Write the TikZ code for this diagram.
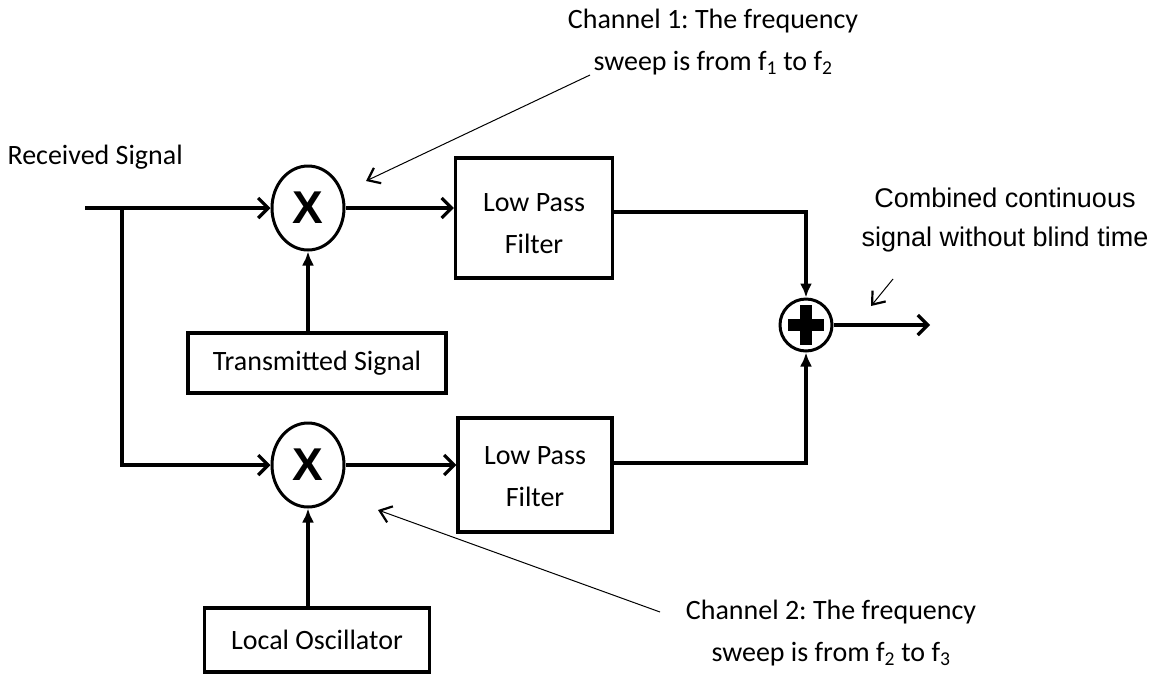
\documentclass[tikz,border=0pt]{standalone}
\usepackage{fontspec}
\setmainfont{Carlito}
\newfontfamily\arialfont{Liberation Sans}
\usetikzlibrary{arrows.meta,shapes.geometric,calc}
\frenchspacing
\begin{document}
\begin{tikzpicture}[x=1pt,y=-1pt,
  thick line/.style={line width=3.2pt},
  sig/.style={thick line,-{Straight Barb[length=10pt,width=20pt]}},
  vsig/.style={thick line,-{Latex[length=14pt,width=12pt]}},
  note/.style={line width=1pt,-{Straight Barb[length=11pt,width=17pt,line width=2.2pt]}},
  blk/.style={draw,line width=3.2pt,inner sep=0pt},
  mix/.style={draw,ellipse,line width=3pt,minimum width=72pt,minimum height=84pt,inner sep=0pt},
  lbl/.style={font=\fontsize{28}{34}\selectfont,align=center}]
\useasboundingbox (0,0) rectangle (1159,681);
% blocks
\node[mix] (m1) at (308,208) {};
\node[mix] (m2) at (308,465) {};
\node[draw,circle,line width=3pt,minimum size=52pt,inner sep=0pt] (sum) at (806,325) {};
\node[blk,minimum width=157pt,minimum height=120pt,label={[lbl,yshift=-6pt]center:{Low Pass\\[8pt]Filter}}] (lpf1) at (534,218) {};
\node[blk,minimum width=154pt,minimum height=114pt,label={[lbl,yshift=-2pt]center:{Low Pass\\[8pt]Filter}}] (lpf2) at (535,475) {};
\node[blk,minimum width=258pt,minimum height=60pt,lbl] (tx) at (317,363) {Transmitted Signal};
\node[blk,minimum width=225pt,minimum height=64pt,lbl] (lo) at (317,640) {Local Oscillator};
% X symbols
\node[font=\arialfont\bfseries\fontsize{46}{46}\selectfont] at (m1.center) {X};
\node[font=\arialfont\bfseries\fontsize{46}{46}\selectfont] at (m2.center) {X};
% plus symbol
\fill ($(sum.center)+(-6,-20)$) rectangle ($(sum.center)+(6,20)$);
\fill ($(sum.center)+(-18,-6)$) rectangle ($(sum.center)+(18,6)$);
% coordinates
\coordinate (in) at (85,208);
\coordinate (br) at (122,208);
\coordinate (out) at (930,325);
% signal lines
\draw[sig] (in) -- (m1.west);
\draw[thick line] (br) -- ($(br)+(0,257)$) coordinate (brd);
\draw[sig] ($(brd)+(-1.6,0)$) -- (m2.west);
\draw[vsig] (tx.north -| m1.south) -- (m1.south);
\draw[vsig] (lo.north -| m2.south) -- (m2.south);
\draw[sig] (m1.east) -- (lpf1.west |- m1.east);
\draw[sig] (m2.east) -- (lpf2.west |- m2.east);
\draw[vsig] (lpf1.east |- 0,212) -| (sum.north);
\draw[vsig] (lpf2.east |- 0,463) -| (sum.south);
\draw[sig] (sum.east) -- (out);
% labels
\node[lbl,anchor=west] (rs) at (4,157) {Received Signal};
\node[lbl] (c1) at (713,42) {Channel 1: The frequency\\[8pt]sweep is from f\textsubscript{1} to f\textsubscript{2}};
\node[lbl] (c2) at (831,633) {Channel 2: The frequency\\[8pt]sweep is from f\textsubscript{2} to f\textsubscript{3}};
\node[font=\arialfont\fontsize{27}{32}\selectfont,align=center] (cb) at (1005,220) {Combined continuous\\[7pt]signal without blind time};
% note arrows
\coordinate (a1) at (590,75);
\coordinate (a2) at (660,612);
\coordinate (a3) at (893,279);
\draw[note] (a1) -- (366,181);
\draw[note] (a2) -- (378,510);
\draw[note] (a3) -- (871,306);
\end{tikzpicture}
\end{document}
